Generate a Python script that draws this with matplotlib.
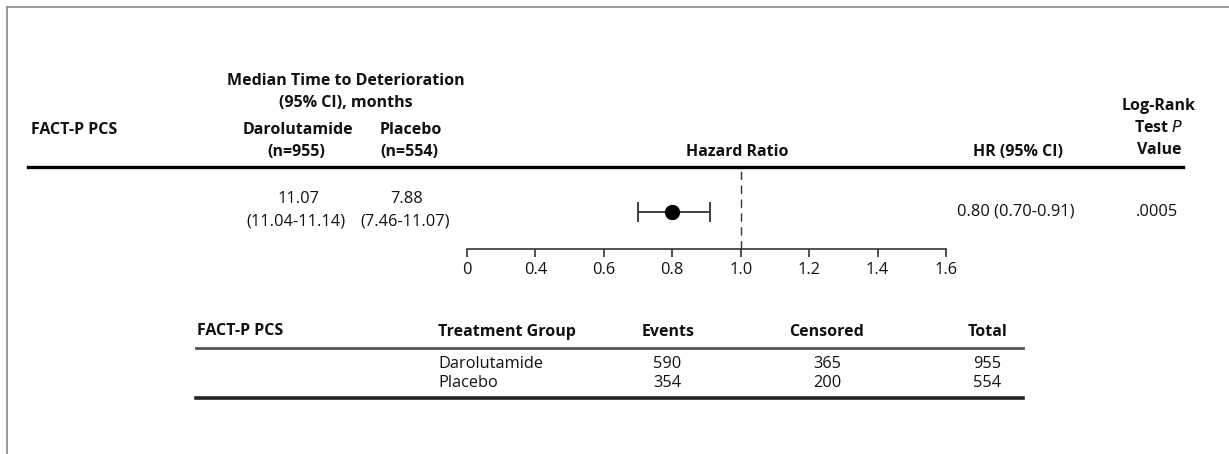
import matplotlib
matplotlib.use("Agg")
import matplotlib.pyplot as plt

# hazard ratio for FACT-P PCS deterioration
hr = 0.80
hr_lo = 0.70
hr_hi = 0.91
median_daro = "11.07"
ci_daro = "(11.04-11.14)"
median_pbo = "7.88"
ci_pbo = "(7.46-11.07)"
p_value = ".0005"

tick_pos = [0.2, 0.4, 0.6, 0.8, 1.0, 1.2, 1.4, 1.6]
tick_labels = ["0", "0.4", "0.6", "0.8", "1.0", "1.2", "1.4", "1.6"]

groups = ["Darolutamide", "Placebo"]
events = [590, 354]
censored = [365, 200]
totals = [955, 554]

W, H = 1229, 454
fig = plt.figure(figsize=(W / 100, H / 100), dpi=100)
bg = fig.add_axes([0, 0, 1, 1])
bg.set_xlim(0, W)
bg.set_ylim(H, 0)
bg.axis("off")

reg = dict(family=["Open Sans", "DejaVu Sans"], fontsize=11.8, color="#111")
bold = dict(family=["Open Sans", "DejaVu Sans"], fontsize=11.5, fontweight="bold", color="#111")

# frame
bg.plot([7, W], [7, 7], color="#8a8a8a", lw=1.2)
bg.plot([7, 7], [7, H], color="#8a8a8a", lw=1.2)

# header
bg.text(31, 130, "FACT-P PCS", ha="left", va="center", **bold)
bg.text(346, 81, "Median Time to Deterioration", ha="center", va="center", **bold)
bg.text(346, 103, "(95% CI), months", ha="center", va="center", **bold)
bg.text(298, 130, "Darolutamide", ha="center", va="center", **bold)
bg.text(296, 152, "(n=955)", ha="center", va="center", **bold)
bg.text(380, 130, "Placebo", ha="left", va="center", **bold)
bg.text(380, 152, "(n=554)", ha="left", va="center", **bold)
bg.text(737, 152, "Hazard Ratio", ha="center", va="center", **bold)
bg.text(1063, 152, "HR (95% CI)", ha="right", va="center", **bold)
bg.text(1159, 106, "Log-Rank", ha="center", va="center", **bold)
bg.text(1159, 128, "Test $\\bf{\\it{P}}$", ha="center", va="center", **bold)
bg.text(1159, 150, "Value", ha="center", va="center", **bold)
bg.plot([28, 1183], [167, 167], color="black", lw=2.4)

# row values
bg.text(298, 199, median_daro, ha="center", va="center", **reg)
bg.text(296, 221, ci_daro, ha="center", va="center", **reg)
bg.text(407, 199, median_pbo, ha="center", va="center", **reg)
bg.text(405, 221, ci_pbo, ha="center", va="center", **reg)
bg.text(1016, 212, f"{hr:.2f} ({hr_lo:.2f}-{hr_hi:.2f})", ha="center", va="center", **reg)
bg.text(1157, 212, p_value, ha="center", va="center", **reg)

# forest plot
x0, x1 = 467, 946
ytop, ybot = 168, 249
ax = fig.add_axes([x0 / W, 1 - ybot / H, (x1 - x0) / W, (ybot - ytop) / H])
ax.set_xlim(0.2, 1.6)
ax.set_ylim(0, 1)
ax.patch.set_alpha(0)
for s in ["top", "left", "right"]:
    ax.spines[s].set_visible(False)
ax.spines["bottom"].set_linewidth(1.2)
ax.spines["bottom"].set_color("#333")
ax.set_yticks([])
ax.set_xticks(tick_pos)
ax.set_xticklabels(tick_labels, **reg)
ax.tick_params(axis="x", direction="out", length=6, width=1.2, color="#333", pad=3)
ax.axvline(1.0, color="#333", lw=1, ls=(0, (6, 4)))
ypt = (ybot - 212) / (ybot - ytop)
ax.errorbar([hr], [ypt], xerr=[[hr - hr_lo], [hr_hi - hr]], fmt="o", color="black",
            ecolor="#333", ms=10, lw=1.3, capsize=7, capthick=1.3)

# events table
bg.text(197, 331, "FACT-P PCS", ha="left", va="center", **bold)
bg.text(438, 332, "Treatment Group", ha="left", va="center", **bold)
bg.text(668, 332, "Events", ha="center", va="center", **bold)
bg.text(827, 332, "Censored", ha="center", va="center", **bold)
bg.text(987, 332, "Total", ha="center", va="center", **bold)
bg.plot([196, 1023], [348, 348], color="#555", lw=2)
for i, g in enumerate(groups):
    y = 364 + i * 19
    bg.text(438, y, g, ha="left", va="center", **reg)
    bg.text(667, y, str(events[i]), ha="center", va="center", **reg)
    bg.text(827, y, str(censored[i]), ha="center", va="center", **reg)
    bg.text(987, y, str(totals[i]), ha="center", va="center", **reg)
bg.plot([196, 1023], [398, 398], color="#222", lw=2.6)

fig.savefig("out.png", dpi=100)
